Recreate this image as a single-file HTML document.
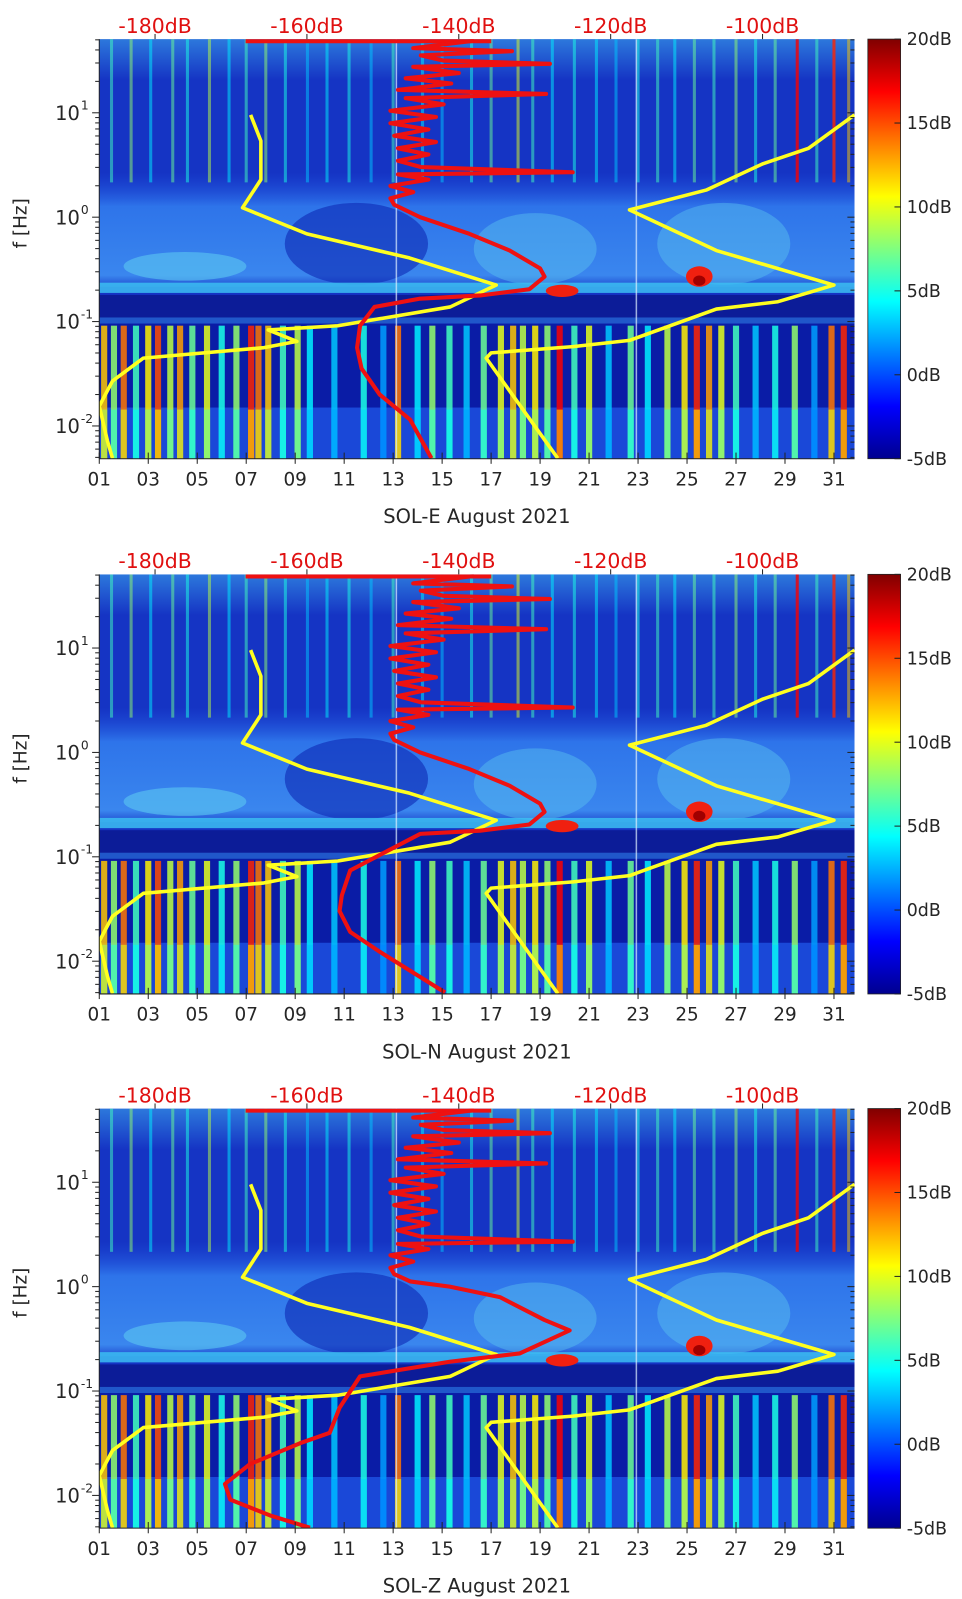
<!DOCTYPE html>
<html><head><meta charset="utf-8">
<style>
html,body{margin:0;padding:0;background:#fff;}
svg{display:block;font-family:"DejaVu Sans","Liberation Sans",sans-serif;}
</style></head>
<body>
<svg id="fig" width="962" height="1599" viewBox="0 0 940 1562" xmlns="http://www.w3.org/2000/svg">
<defs>
<linearGradient id="jet" x1="0" y1="0" x2="0" y2="1">
<stop offset="0" stop-color="#800000"/><stop offset="0.125" stop-color="#ff0000"/>
<stop offset="0.375" stop-color="#ffff00"/><stop offset="0.625" stop-color="#00ffff"/>
<stop offset="0.875" stop-color="#0000ff"/><stop offset="1" stop-color="#00008f"/>
</linearGradient>
<linearGradient id="haze" x1="0" y1="0" x2="0" y2="1">
<stop offset="0" stop-color="#1e50dc" stop-opacity="0"/><stop offset="0.3" stop-color="#2e74ea"/>
<stop offset="0.9" stop-color="#3a86ee"/><stop offset="1" stop-color="#3a86ee" stop-opacity="0.3"/>
</linearGradient>
<linearGradient id="topglow" x1="0" y1="0" x2="0" y2="1">
<stop offset="0" stop-color="#40b0f0" stop-opacity="0.55"/><stop offset="1" stop-color="#40b0f0" stop-opacity="0"/>
</linearGradient>
<clipPath id="clip0"><rect x="97" y="38" width="738" height="410"/></clipPath>
<clipPath id="clip1"><rect x="97" y="561" width="738" height="410"/></clipPath>
<clipPath id="clip2"><rect x="97" y="1083" width="738" height="410"/></clipPath>
</defs>
</svg>
<script>
// ---- data ----
const panelNames = ["SOL-E August 2021","SOL-N August 2021","SOL-Z August 2021"];
const dayTicks = ["01","03","05","07","09","11","13","15","17","19","21","23","25","27","29","31"];
const dbTicks = [-180,-160,-140,-120,-100];
const cbTicks = [20,15,10,5,0,-5];
const yDecades = [1,0,-1,-2];
// low-frequency band streaks (day, dB)
const lowDays = [1.2,1.6,2.0,2.5,3.0,3.4,3.9,4.3,4.8,5.4,6.0,6.6,7.2,7.5,7.9,8.5,9.1,9.6,10.6,11.8,12.6,13.2,14.0,14.6,15.3,16.0,16.7,17.4,17.9,18.3,18.8,19.3,19.8,20.4,21.0,21.8,22.7,23.4,24.2,24.9,25.4,25.9,26.4,27.0,27.8,28.6,29.4,30.2,30.9,31.4];
const lowVals = [12,8,14,6,11,15,9,13,7,10,5,8,16,14,12,6,9,4,3,5,2,14,4,8,6,3,7,10,12,9,11,8,17,6,10,3,7,4,9,11,16,13,10,6,3,5,8,2,14,16];
// high-frequency streaks (day, dB)
const upDays = [1.5,2.3,3.1,4.0,4.6,5.5,6.3,7.0,7.8,8.6,9.5,10.3,11.2,12.1,13.0,14.2,15.0,16.2,17.0,18.1,18.7,19.5,20.4,21.3,22.1,23.0,23.8,24.5,25.3,26.1,27.0,27.8,28.6,29.5,30.3,31.0,31.6];
const upVals = [6,8,4,7,5,9,4,6,8,5,3,4,5,3,6,4,3,5,7,10,6,4,5,4,3,5,6,4,7,6,8,5,7,17,6,16,12];
// yellow reference curves (day, log10 f)
const yelLDays = [7.18,7.60,7.60,6.85,9.48,13.66,17.21,15.33,10.74,7.90,9.07,7.73,2.80,1.54,1.00,1.33,1.54];
const yelLLogF = [0.98,0.73,0.36,0.09,-0.16,-0.39,-0.65,-0.86,-1.04,-1.08,-1.19,-1.25,-1.35,-1.57,-1.81,-2.14,-2.31];
const yelRDays = [31.84,29.96,28.08,25.78,22.65,26.20,31.00,28.71,26.20,22.65,20.35,17.0,16.80,19.72];
const yelRLogF = [0.98,0.66,0.51,0.26,0.07,-0.32,-0.65,-0.81,-0.88,-1.18,-1.24,-1.30,-1.35,-2.31];
// red PSD curve top part (dB, log10 f) shared
const redTopDb = [-138,-146,-133,-145,-142,-128,-146,-140,-147,-141,-148,-128.5,-147,-142,-149,-143,-149,-144,-148.5,-143,-148,-144,-148,-145,-125,-148,-144,-149,-146,-149,-148.5];
const redTopLogF = [1.69,1.62,1.59,1.55,1.50,1.47,1.44,1.38,1.33,1.28,1.22,1.18,1.14,1.08,1.02,0.96,0.90,0.84,0.78,0.72,0.66,0.60,0.54,0.48,0.43,0.41,0.36,0.30,0.24,0.18,0.12];
// lower parts per panel
const redLowDb0 = [-145.1,-138.6,-133.3,-129.3,-128.7,-130.7,-137.2,-145.1,-151.1,-153.0,-153.4,-152.8,-150.4,-146.4,-143.6];
const redLowLogF0 = [0.0,-0.16,-0.32,-0.49,-0.57,-0.69,-0.75,-0.78,-0.86,-1.04,-1.25,-1.45,-1.70,-1.94,-2.31];
const redLowDb1 = [-145.1,-138.6,-133.3,-129.3,-128.7,-130.7,-137.2,-145.1,-154.3,-155.4,-155.7,-154.3,-150.4,-141.8];
const redLowLogF1 = [0.0,-0.16,-0.32,-0.49,-0.57,-0.69,-0.75,-0.78,-1.13,-1.37,-1.52,-1.72,-1.91,-2.30];
const redLowDb2 = [-146.4,-141.2,-134.6,-128.7,-125.4,-132.0,-141.2,-153.0,-155.7,-157.0,-160.9,-167.5,-170.8,-170.1,-164.9,-159.6];
const redLowLogF2 = [0.05,0.0,-0.1,-0.32,-0.42,-0.64,-0.72,-0.86,-1.16,-1.40,-1.50,-1.70,-1.89,-2.04,-2.19,-2.31];

// ---- helpers ----
const NS = "http://www.w3.org/2000/svg";
const svg = document.getElementById("fig");
const panelTops = [38,561,1083];
const PX0 = 97, PW = 738, PH = 410;
function xDay(d){ return PX0 + (d-1)*23.93; }
function xDb(db){ return 151.5 + (db+180)*7.42; }
function yF(top, lf){ return top + 72 + (1-lf)*102; }
function jet(v){
  let t = (v+5)/25; t = Math.max(0,Math.min(1,t));
  const stops=[[0,[0,0,143]],[0.125,[0,0,255]],[0.375,[0,255,255]],[0.625,[255,255,0]],[0.875,[255,0,0]],[1,[128,0,0]]];
  for(let i=1;i<stops.length;i++){ if(t<=stops[i][0]){ const a=stops[i-1],b=stops[i]; const f=(t-a[0])/(b[0]-a[0]);
    const c=a[1].map((x,k)=>Math.round(x+(b[1][k]-x)*f)); return `rgb(${c[0]},${c[1]},${c[2]})`; } }
  return "rgb(128,0,0)";
}
function mk(tag, attrs, parent){ const e=document.createElementNS(NS,tag); for(const k in attrs) e.setAttribute(k,attrs[k]); (parent||svg).appendChild(e); return e; }
function txt(x,y,s,attrs,parent){ const e=mk("text",Object.assign({x:x,y:y},attrs),parent); e.textContent=s; return e; }

panelTops.forEach((T,p)=>{
  const g = mk("g",{"clip-path":`url(#clip${p})`});
  
  
  let r = mk("rect",{x:PX0,y:T,width:PW,height:PH,fill:"#1534c4"},g);
  
  
  mk("rect",{x:PX0,y:T,width:PW,height:40,fill:"url(#topglow)"},g);
  mk("rect",{x:PX0,y:T+130,width:PW,height:112,fill:"url(#haze)"},g);
  mk("ellipse",{cx:xDay(11.5),cy:T+200,rx:70,ry:40,fill:"#0e28b4",opacity:0.6},g);
  mk("ellipse",{cx:xDay(4.5),cy:T+222,rx:60,ry:14,fill:"#5cc8f2",opacity:0.6},g);
  mk("ellipse",{cx:xDay(18.8),cy:T+205,rx:60,ry:35,fill:"#5cc4f0",opacity:0.45},g);
  mk("ellipse",{cx:xDay(26.5),cy:T+200,rx:65,ry:40,fill:"#5cc4f0",opacity:0.45},g);
  mk("rect",{x:PX0,y:T+238,width:PW,height:10,fill:"#3cbef2",opacity:0.85},g);
  mk("rect",{x:PX0,y:T+250,width:PW,height:28,fill:"#0c1c98"},g);
  mk("rect",{x:PX0,y:T+272,width:PW,height:6,fill:"#2a70e0",opacity:0.7},g);
  mk("rect",{x:PX0,y:T+278,width:PW,height:132,fill:"#0a1ca6"},g);
  mk("rect",{x:PX0,y:T+360,width:PW,height:50,fill:"#1a48d8"},g);
  mk("ellipse",{cx:xDay(25.5),cy:T+232,rx:13,ry:10,fill:"#f02010"},g);
  mk("ellipse",{cx:xDay(25.5),cy:T+236,rx:6,ry:5,fill:"#a00000"},g);
  mk("ellipse",{cx:xDay(19.9),cy:T+246,rx:16,ry:6,fill:"#f02010"},g);
  upDays.forEach((d,i)=>{
    const s = mk("rect",{x:xDay(d)-1.5,y:T,width:3,height:140,fill:jet(upVals[i]),opacity:upVals[i]>12?0.8:0.5},g);
    
    
  });
  lowDays.forEach((d,i)=>{
    const s = mk("rect",{x:xDay(d)-3,y:T+280,width:6,height:130,fill:jet(lowVals[i]),opacity:0.85},g);
    
    
    mk("rect",{x:xDay(d)-3,y:T+362,width:6,height:48,fill:jet(lowVals[i]*0.7),opacity:0.6},g);
  });
  [13.1,22.9].forEach(d=>mk("rect",{x:xDay(d),y:T,width:1.5,height:PH,fill:"#ddeeff",opacity:0.7},g));
  mk("line",{x1:240,y1:T+2,x2:480,y2:T+2,stroke:"#ee1111","stroke-width":4},g);
  const pl = (xs,ys,fx)=>xs.map((v,i)=>`${fx(v).toFixed(1)},${yF(T,ys[i]).toFixed(1)}`).join(" ");
  let yl = mk("polyline",{points:pl(yelLDays,yelLLogF,xDay),fill:"none",stroke:"#ffff20","stroke-width":3.5,"stroke-linejoin":"round"},g);
  
  
  let yr = mk("polyline",{points:pl(yelRDays,yelRLogF,xDay),fill:"none",stroke:"#ffff20","stroke-width":3.5,"stroke-linejoin":"round"},g);
  
  
  const lowDb = [redLowDb0,redLowDb1,redLowDb2][p], lowLf = [redLowLogF0,redLowLogF1,redLowLogF2][p];
  const rdb = redTopDb.concat(lowDb), rlf = redTopLogF.concat(lowLf);
  let rc = mk("polyline",{points:pl(rdb,rlf,xDb),fill:"none",stroke:"#ee1111","stroke-width":4,"stroke-linejoin":"round"},g);
  
  

  const ax = mk("g",{});
  
  
  mk("line",{x1:PX0,y1:T,x2:PX0,y2:T+PH,stroke:"#222","stroke-width":1},ax);
  mk("line",{x1:PX0,y1:T+PH,x2:PX0+PW,y2:T+PH,stroke:"#222","stroke-width":1},ax);
  dayTicks.forEach((s,i)=>{
    const x = xDay(parseInt(s,10));
    mk("line",{x1:x,y1:T+PH,x2:x,y2:T+PH-6,stroke:"#222"},ax);
    mk("line",{x1:x,y1:T+PH,x2:x,y2:T+PH+5,stroke:"#222"},ax);
    const t = txt(x,T+PH+26,s,{"font-size":18,fill:"#262626","text-anchor":"middle"},ax);
    
    
  });
  dbTicks.forEach(db=>{
    const x = xDb(db);
    mk("line",{x1:x,y1:T,x2:x,y2:T-5,stroke:"#222"},ax);
    const t = txt(x,T-6,db+"dB",{"font-size":20,fill:"#e01010","text-anchor":"middle"},ax);
    
    
  });
  for(let dec=-3; dec<=1; dec++){
    for(let m=1;m<10;m++){
      const lf = dec+Math.log10(m);
      const y = yF(T,lf);
      if(y<T||y>T+PH) continue;
      const L = m===1?7:4;
      mk("line",{x1:PX0,y1:y,x2:PX0-L,y2:y,stroke:"#222"},ax);
      mk("line",{x1:PX0+PW,y1:y,x2:PX0+PW-L,y2:y,stroke:"#222"},ax);
    }
  }
  yDecades.forEach(dec=>{
    const y = yF(T,dec);
    const t = mk("text",{x:78,y:y+7,"font-size":19,fill:"#262626","text-anchor":"end"},ax);
    
    
    t.textContent="10";
    const sp = mk("tspan",{x:79,y:y-3,"font-size":12,"text-anchor":"start"},ax);
    sp.textContent = String(dec);
    t.appendChild(sp);
  });
  const yl2 = txt(0,0,"f [Hz]",{"font-size":18,fill:"#262626","text-anchor":"middle",transform:`translate(26,${T+180}) rotate(-90)`},ax);
  
  
  const tt = txt(466,T+PH+63,panelNames[p],{"font-size":19,fill:"#262626","text-anchor":"middle"},ax);
  
  

  const cb = mk("rect",{x:848,y:T,width:32,height:PH,fill:"url(#jet)",stroke:"#222","stroke-width":0.8});
  
  
  cbTicks.forEach(v=>{
    const y = T + (20-v)/25*PH;
    mk("line",{x1:874,y1:y,x2:880,y2:y,stroke:"#222"});
    const t = txt(886,y+6,v+"dB",{"font-size":17,fill:"#262626"});
    
    
  });
});
</script>
</body></html>
